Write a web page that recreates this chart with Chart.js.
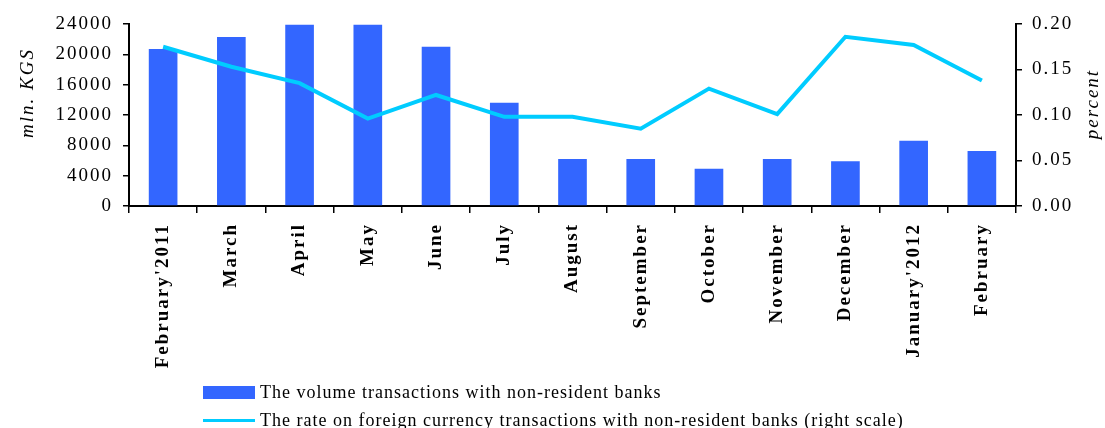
<!DOCTYPE html>
<html>
<head>
<meta charset="utf-8">
<script src="https://cdn.jsdelivr.net/npm/chart.js@4.4.0/dist/chart.umd.min.js"></script>
<style>
  html, body { margin: 0; padding: 0; background: #fff; }
  #wrap { position: relative; width: 1105px; height: 428px; }
  #c { position: absolute; left: 0; top: 0; }
  #legend { position: absolute; left: 203px; top: 378px; font-family: "Liberation Serif", "Times New Roman", serif; font-size: 18px; letter-spacing: 1px; color: #000; }
  .item { display: flex; align-items: center; height: 28px; white-space: nowrap; }
  .sw { width: 52px; margin-right: 5px; }
</style>
</head>
<body>
<div id="wrap">
  <canvas id="c" width="1105" height="428"></canvas>
  <div id="legend"></div>
</div>
<script>
const categories = ["February'2011", "March", "April", "May", "June", "July", "August", "September", "October", "November", "December", "January'2012", "February"];
const volumeValues = [20700, 22300, 23900, 23900, 21000, 13600, 6200, 6200, 4900, 6200, 5900, 8600, 7250];
const rateValues = [0.175, 0.153, 0.135, 0.096, 0.122, 0.098, 0.098, 0.085, 0.129, 0.101, 0.186, 0.177, 0.138];
const leftTicks = [0, 4000, 8000, 12000, 16000, 20000, 24000];
const rightTicks = [0, 0.05, 0.10, 0.15, 0.20];
const seriesNames = ["The volume transactions with non-resident banks", "The rate on foreign currency transactions with non-resident banks (right scale)"];
const axisTitles = ["mln. KGS", "percent"];

const FONT = "'Liberation Serif', 'Times New Roman', serif";

const spacingPlugin = {
  id: 'spacing',
  beforeDraw(chart) { chart.ctx.letterSpacing = '2px'; }
};

function drawTitle(ctx, text, x, y) {
  ctx.save();
  ctx.letterSpacing = '2px';
  ctx.font = 'italic 19px ' + FONT;
  ctx.fillStyle = '#000';
  ctx.textAlign = 'center';
  ctx.textBaseline = 'middle';
  ctx.translate(x, y);
  ctx.rotate(-Math.PI / 2);
  ctx.fillText(text, 0, 0);
  ctx.restore();
}

const titlePlugin = {
  id: 'axisTitles',
  afterDraw(chart) {
    drawTitle(chart.ctx, axisTitles[0], 28, 93);
    drawTitle(chart.ctx, axisTitles[1], 1093, 104);
  }
};

const htmlLegend = {
  id: 'htmlLegend',
  afterUpdate(chart) {
    const box = document.getElementById('legend');
    box.innerHTML = '';
    chart.data.datasets.forEach(ds => {
      const item = document.createElement('div');
      item.className = 'item';
      const sw = document.createElement('span');
      sw.className = 'sw';
      if (ds.type === 'line') {
        sw.style.height = '3px';
        sw.style.background = ds.borderColor;
      } else {
        sw.style.height = '13px';
        sw.style.background = ds.backgroundColor;
      }
      const t = document.createElement('span');
      t.textContent = ds.label;
      item.appendChild(sw);
      item.appendChild(t);
      box.appendChild(item);
    });
  }
};

new Chart(document.getElementById('c'), {
  data: {
    labels: categories,
    datasets: [
      {
        type: 'bar',
        label: seriesNames[0],
        data: volumeValues,
        yAxisID: 'y',
        backgroundColor: '#3366FF',
        categoryPercentage: 1.0,
        barPercentage: 0.42,
        order: 1
      },
      {
        type: 'line',
        label: seriesNames[1],
        data: rateValues,
        yAxisID: 'y1',
        borderColor: '#00CCFF',
        backgroundColor: '#00CCFF',
        borderWidth: 4,
        pointRadius: 0,
        tension: 0,
        order: 0
      }
    ]
  },
  options: {
    responsive: false,
    animation: false,
    devicePixelRatio: 1,
    layout: { padding: { top: 24, left: 0, right: 0, bottom: 0 } },
    plugins: {
      legend: { display: false },
      tooltip: { enabled: false }
    },
    scales: {
      x: {
        offset: true,
        grid: { offset: true, drawOnChartArea: false, drawTicks: true, tickLength: 7, color: '#000', lineWidth: 1.5 },
        border: { color: '#000', width: 2 },
        ticks: {
          color: '#000',
          minRotation: 90, maxRotation: 90,
          autoSkip: false,
          padding: 10,
          font: { family: FONT, size: 19, weight: 'bold' }
        },
        afterFit(scale) { scale.height = 222; }
      },
      y: {
        position: 'left',
        min: 0, max: 24000,
        afterBuildTicks(scale) { scale.ticks = leftTicks.map(v => ({ value: v })); },
        grid: { drawOnChartArea: false, drawTicks: true, tickLength: 6, color: '#000', lineWidth: 1.5 },
        border: { color: '#000', width: 2 },
        ticks: {
          color: '#000',
          padding: 10,
          font: { family: FONT, size: 19 },
          callback: v => String(v)
        },
        afterFit(scale) { scale.width = 129; }
      },
      y1: {
        position: 'right',
        min: 0, max: 0.2,
        afterBuildTicks(scale) { scale.ticks = rightTicks.map(v => ({ value: v })); },
        grid: { drawOnChartArea: false, drawTicks: true, tickLength: 6, color: '#000', lineWidth: 1.5 },
        border: { color: '#000', width: 2 },
        ticks: {
          color: '#000',
          padding: 10,
          font: { family: FONT, size: 19 },
          callback: v => Number(v).toFixed(2)
        },
        afterFit(scale) { scale.width = 89; }
      }
    }
  },
  plugins: [spacingPlugin, titlePlugin, htmlLegend]
});
</script>
</body>
</html>
